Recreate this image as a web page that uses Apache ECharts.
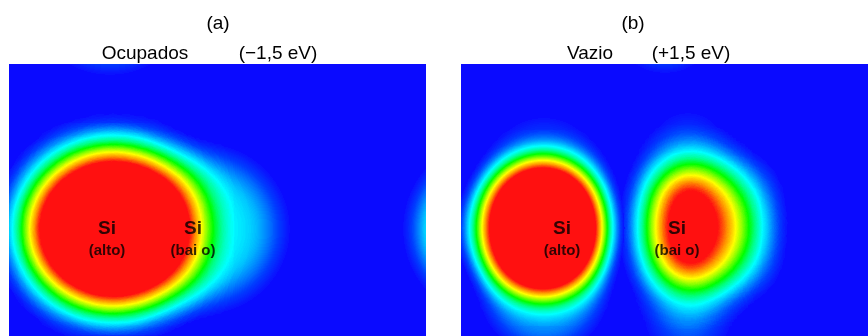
<!DOCTYPE html>
<html>
<head>
<meta charset="utf-8">
<script src="https://cdn.jsdelivr.net/npm/echarts@6/dist/echarts.min.js"></script>
<style>
  html, body { margin: 0; padding: 0; background: #ffffff; }
  #chart { width: 868px; height: 336px; }
</style>
</head>
<body>
<div id="chart"></div>
<script>
// ---- data -------------------------------------------------------------
// Scan windows in Å, origin at the lower-left corner.
const panelSizeA = [16.68, 10.88];
const panelSizeB = [16.28, 10.88];

const panelTitles = ['(a)', '(b)'];
const stateNames = ['Ocupados', 'Vazio'];
const biasLabels = ['(\u22121,5 eV)', '(+1,5 eV)'];

// Si sites: [x, y, height label]
const sitesA = [[3.92, 4.28, '(alto)'], [7.36, 4.28, '(bai o)']];
const sitesB = [[4.04, 4.28, '(alto)'], [8.64, 4.28, '(bai o)']];

// Charge lobes: [x, y, relative intensity]
// (a) occupied states
const lobesA = [
  // bright lobe over both Si
  [3.56, 4.28, 1.0], [4.76, 4.28, 1.0],
  // diffuse fringe around it
  [5.76, 4.28, 0.09], [5.29, 5.41, 0.09], [4.16, 5.88, 0.07], [3.03, 5.41, 0.09],
  [2.56, 4.28, 0.05], [3.03, 3.15, 0.09], [4.16, 2.68, 0.07], [5.29, 3.15, 0.09],
  // lower-Si shoulder
  [7.84, 4.28, 0.2],
  // neighbouring cells (right, above)
  [19.44, 4.28, 0.4], [4.04, 13.84, 0.2]
];
// (b) empty states: lower Si lobe
const lobesBBaixo = [
  [9.08, 5.48, 0.85], [9.08, 4.36, 0.85], [9.08, 3.24, 0.85],
  [10.68, 5.48, 0.3], [10.68, 4.36, 0.3], [10.68, 3.24, 0.3],
  [9.08, 7.44, 0.1], [9.08, 0.84, 0.15],
  // neighbouring cells (right, above)
  [18.76, 4.36, 0.6], [8.16, 12.64, 0.3]
];
// (b) empty states: upper Si lobe
const lobesBAlto = [
  [3.32, 4.88, 1.0], [3.32, 3.76, 1.0],
  [2.68, 4.32, 0.35], [3.32, 6.44, 0.08], [3.32, 1.84, 0.15]
];

// ---- colour scale -----------------------------------------------------
const jetStops = [
  [0.00, [10, 10, 255]],
  [0.03, [10, 16, 255]],
  [0.07, [0, 60, 255]],
  [0.12, [0, 130, 255]],
  [0.17, [0, 200, 255]],
  [0.22, [0, 255, 255]],
  [0.31, [0, 255, 140]],
  [0.40, [0, 255, 0]],
  [0.50, [150, 255, 0]],
  [0.58, [255, 255, 0]],
  [0.68, [255, 150, 0]],
  [0.78, [255, 16, 16]],
  [1.00, [255, 16, 16]]
];
const bgRGB = [10, 10, 255];
function jetAt(t) {
  for (let i = 1; i < jetStops.length; i++) {
    const [t1, c1] = jetStops[i];
    const [t0, c0] = jetStops[i - 1];
    if (t <= t1) {
      const f = (t - t0) / (t1 - t0);
      return c0.map((v, k) => Math.round(v + (c1[k] - v) * f));
    }
  }
  return jetStops[jetStops.length - 1][1];
}
// the faintest density is left clear so an underlying lobe can show through
const densityColors = [];
for (let i = 0; i <= 200; i++) {
  const t = i / 200;
  const c = jetAt(t);
  densityColors.push('rgba(' + c.join(',') + ',' + (t < 0.03 ? 0 : 1) + ')');
}

// ---- geo windows ------------------------------------------------------
function windowShape(size) {
  return {
    type: 'FeatureCollection',
    features: [{
      type: 'Feature',
      properties: { name: 'window' },
      geometry: {
        type: 'Polygon',
        coordinates: [[[0, 0], [size[0], 0], [size[0], size[1]], [0, size[1]], [0, 0]]]
      }
    }]
  };
}
echarts.registerMap('scanA', windowShape(panelSizeA));
echarts.registerMap('scanB', windowShape(panelSizeB));

const FONT = '"Liberation Sans", Arial, Helvetica, sans-serif';
const bg = 'rgb(' + bgRGB.join(',') + ')';

function geoWindow(map, left, width) {
  return {
    map: map, roam: false, aspectScale: 1, silent: true,
    left: left, top: 64, width: width, height: 272,
    itemStyle: { areaColor: bg, borderWidth: 0, borderColor: bg },
    emphasis: { disabled: true }, select: { disabled: true },
    label: { show: false }
  };
}
function density(geoIndex, pts, pointSize, blurSize) {
  return {
    type: 'heatmap', coordinateSystem: 'geo', geoIndex: geoIndex,
    pointSize: pointSize, blurSize: blurSize, minOpacity: 1, maxOpacity: 1,
    silent: true, data: pts.map(p => [p[0], p[1], p[2]])
  };
}
function siteLabels(geoIndex, sites) {
  return {
    type: 'scatter', coordinateSystem: 'geo', geoIndex: geoIndex, z: 10,
    symbolSize: 0, silent: true,
    data: sites.map(s => ({ value: [s[0], s[1]], name: s[2] })),
    label: {
      show: true, position: 'inside', offset: [0, 10],
      formatter: p => '{s|Si}\n{t|' + p.name + '}',
      rich: {
        s: { fontFamily: FONT, fontSize: 19, fontWeight: 'bold', color: '#000', lineHeight: 24, align: 'center' },
        t: { fontFamily: FONT, fontSize: 15, fontWeight: 'bold', color: '#000', lineHeight: 20, align: 'center' }
      }
    }
  };
}

const chart = echarts.init(document.getElementById('chart'), null, { renderer: 'canvas' });
const titleStyle = { font: '19px ' + FONT, fill: '#000', textAlign: 'center', textVerticalAlign: 'middle' };
chart.setOption({
  animation: false,
  backgroundColor: '#ffffff',
  geo: [geoWindow('scanA', 9, 417), geoWindow('scanB', 461, 407)],
  visualMap: [
    { type: 'continuous', show: false, min: 0, max: 1, seriesIndex: [0, 1, 2], inRange: { color: densityColors } }
  ],
  series: [
    density(0, lobesA, 70, 36),
    density(1, lobesBBaixo, 34, 40),
    density(1, lobesBAlto, 56, 28),
    siteLabels(0, sitesA),
    siteLabels(1, sitesB)
  ],
  graphic: [
    { type: 'text', x: 218, y: 24, style: Object.assign({ text: panelTitles[0] }, titleStyle) },
    { type: 'text', x: 145, y: 54, style: Object.assign({ text: stateNames[0] }, titleStyle) },
    { type: 'text', x: 278, y: 54, style: Object.assign({ text: biasLabels[0] }, titleStyle) },
    { type: 'text', x: 633, y: 24, style: Object.assign({ text: panelTitles[1] }, titleStyle) },
    { type: 'text', x: 590, y: 54, style: Object.assign({ text: stateNames[1] }, titleStyle) },
    { type: 'text', x: 691, y: 54, style: Object.assign({ text: biasLabels[1] }, titleStyle) }
  ]
});
</script>
</body>
</html>
